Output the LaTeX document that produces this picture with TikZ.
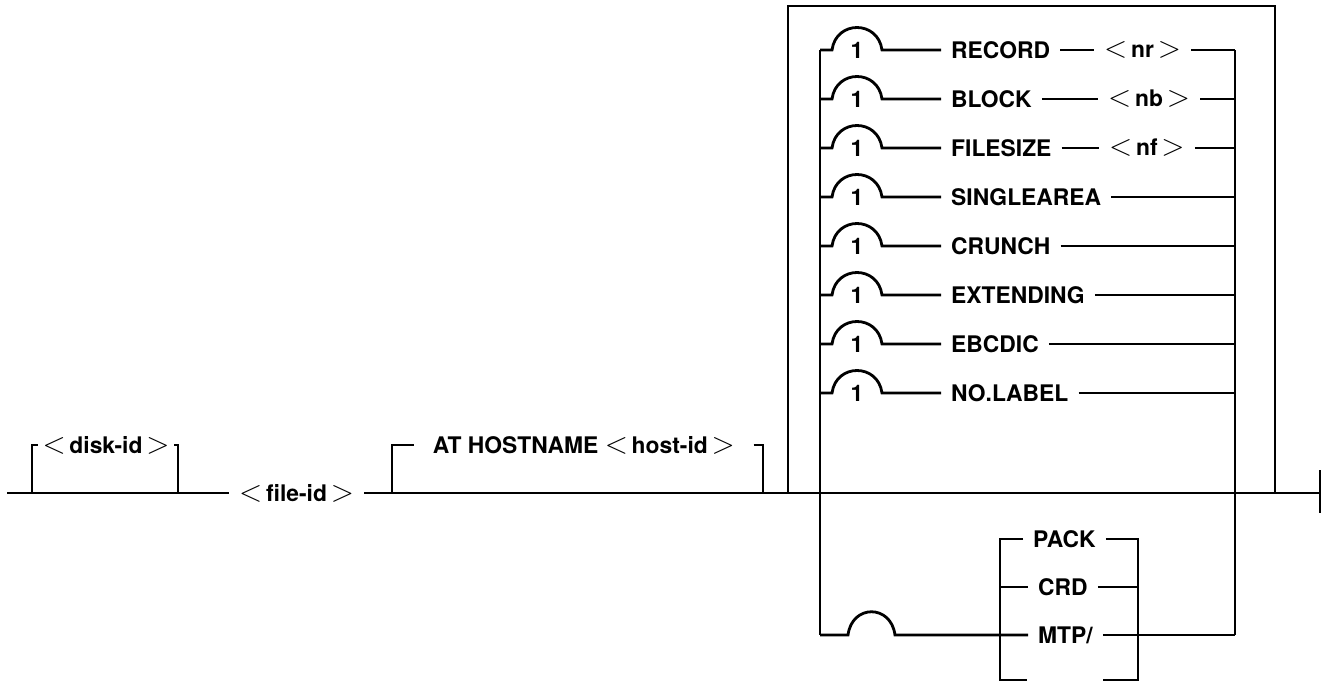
\documentclass[tikz,border=0pt]{standalone}
\usepackage{fontspec}
\setmainfont{TeX Gyre Heros}
\usetikzlibrary{positioning,calc}
\newcommand{\lsym}{{\fontsize{17}{17}\selectfont$<$}}
\newcommand{\rsym}{{\fontsize{17}{17}\selectfont$>$}}

\begin{document}
\begin{tikzpicture}[
                x=0.02cm, y=-0.02cm,
                line width=1.6pt,
                kw/.style={anchor=west, inner xsep=5pt, inner ysep=1pt, font=\fontsize{13}{15}\selectfont\bfseries},
                one/.style={inner sep=1pt, font=\fontsize{13}{15}\selectfont\bfseries}
            ]

\useasboundingbox (0,0) rectangle (1330,683);

% junctions
                \coordinate (s) at (7,493);
                \coordinate (d1) at (32,493);
                \coordinate (d2) at (32,445);
                \coordinate (d3) at (178,445);
                \coordinate (d4) at (178,493);

                \coordinate (h1) at (392,493);
                \coordinate (h2) at (392,445);
                \coordinate (h3) at (763,445);
                \coordinate (h4) at (763,493);

                \coordinate (b1) at (788,493);
                \coordinate (b2) at (788,6);
                \coordinate (b3) at (1275,6);
                \coordinate (b4) at (1275,493);

                \coordinate (fin) at (1320,493);
                \coordinate (f1) at (1320,470);
                \coordinate (f2) at (1320,513);

                \coordinate (o1) at (820,50);
                \coordinate (o2) at (820,99);
                \coordinate (o3) at (820,148);
                \coordinate (o4) at (820,197);
                \coordinate (o5) at (820,246);
                \coordinate (o6) at (820,295);
                \coordinate (o7) at (820,344);
                \coordinate (o8) at (820,393);
                \coordinate (o9) at (820,635);

                \coordinate (e1) at (1235,50);
                \coordinate (e2) at (1235,99);
                \coordinate (e3) at (1235,148);
                \coordinate (e4) at (1235,197);
                \coordinate (e5) at (1235,246);
                \coordinate (e6) at (1235,295);
                \coordinate (e7) at (1235,344);
                \coordinate (e8) at (1235,393);
                \coordinate (e9) at (1235,635);

                \coordinate (g1) at (1000,539);
                \coordinate (g2) at (1000,680);
                \coordinate (g3) at (1138,539);
                \coordinate (g4) at (1138,680);
                \coordinate (g5) at (1000,587);
                \coordinate (g6) at (1138,587);
                \coordinate (g8) at (1027,680);
                \coordinate (g9) at (1103,680);

% labels
                \node[kw, anchor=center, inner xsep=2pt] (disk) at (106,445) {\lsym\,disk-id\,\rsym};
                \node[kw] (file) at (229,493) {\lsym\,file-id\,\rsym};
                \node[kw, inner xsep=10pt] (host) at (414,445) {AT HOSTNAME \lsym\,host-id\,\rsym};

                \node[kw] (rec) at (941,50) {RECORD};
                \node[kw] (nr) at (1094,50) {\lsym\,nr\,\rsym};
                \node[kw] (blk) at (941,99) {BLOCK};
                \node[kw] (nb) at (1098,99) {\lsym\,nb\,\rsym};
                \node[kw] (fsz) at (941,148) {FILESIZE};
                \node[kw] (nf) at (1099,148) {\lsym\,nf\,\rsym};
                \node[kw] (sgl) at (941,197) {SINGLEAREA};
                \node[kw] (crn) at (941,246) {CRUNCH};
                \node[kw] (ext) at (941,295) {EXTENDING};
                \node[kw] (ebc) at (941,344) {EBCDIC};
                \node[kw] (nol) at (941,393) {NO.LABEL};

                \node[one] (c1) at (857,50) {1};
                \node[one] (c2) at (857,99) {1};
                \node[one] (c3) at (857,148) {1};
                \node[one] (c4) at (857,197) {1};
                \node[one] (c5) at (857,246) {1};
                \node[one] (c6) at (857,295) {1};
                \node[one] (c7) at (857,344) {1};
                \node[one] (c8) at (857,393) {1};

                \node[kw] (pack) at (1023,539) {PACK};
                \node[kw] (crd) at (1028,587) {CRD};
                \node[kw] (mtp) at (1028,635) {MTP/};

% main line
                \draw (s) -- (file);
                \draw (file) -- (fin);
                \draw (f1) -- (f2);
                \draw (d1) -- (d2) -- (disk.west);
                \draw (disk.east) -- (d3) -- (d4);
                \draw (h1) -- (h2) -- (host.west);
                \draw (host.east) -- (h3) -- (h4);
                \draw (b1) -- (b2) -- (b3) -- (b4);

% rails
                \draw (o1) -- (o9);
                \draw (e1) -- (e9);

% options
                \draw (o1) -- ++(12,0) .. controls +(4,-30) and +(-4,-30) .. ++(50,0) -- (rec);
                \draw (rec) -- (nr) -- (e1);
                \draw (o2) -- ++(12,0) .. controls +(4,-30) and +(-4,-30) .. ++(50,0) -- (blk);
                \draw (blk) -- (nb) -- (e2);
                \draw (o3) -- ++(12,0) .. controls +(4,-30) and +(-4,-30) .. ++(50,0) -- (fsz);
                \draw (fsz) -- (nf) -- (e3);
                \draw (o4) -- ++(12,0) .. controls +(4,-30) and +(-4,-30) .. ++(50,0) -- (sgl);
                \draw (sgl) -- (e4);
                \draw (o5) -- ++(12,0) .. controls +(4,-30) and +(-4,-30) .. ++(50,0) -- (crn);
                \draw (crn) -- (e5);
                \draw (o6) -- ++(12,0) .. controls +(4,-30) and +(-4,-30) .. ++(50,0) -- (ext);
                \draw (ext) -- (e6);
                \draw (o7) -- ++(12,0) .. controls +(4,-30) and +(-4,-30) .. ++(50,0) -- (ebc);
                \draw (ebc) -- (e7);
                \draw (o8) -- ++(12,0) .. controls +(4,-30) and +(-4,-30) .. ++(50,0) -- (nol);
                \draw (nol) -- (e8);

% device group
                \draw (o9) -- ++(28,0) .. controls +(4,-31) and +(-4,-31) .. ++(47,0) -- (mtp);
                \draw (mtp) -- (e9);
                \draw (pack.west) -- (g1) -- (g2) -- (g8);
                \draw (pack.east) -- (g3) -- (g4) -- (g9);
                \draw (g5) -- (crd) -- (g6);

\end{tikzpicture}
\end{document}
